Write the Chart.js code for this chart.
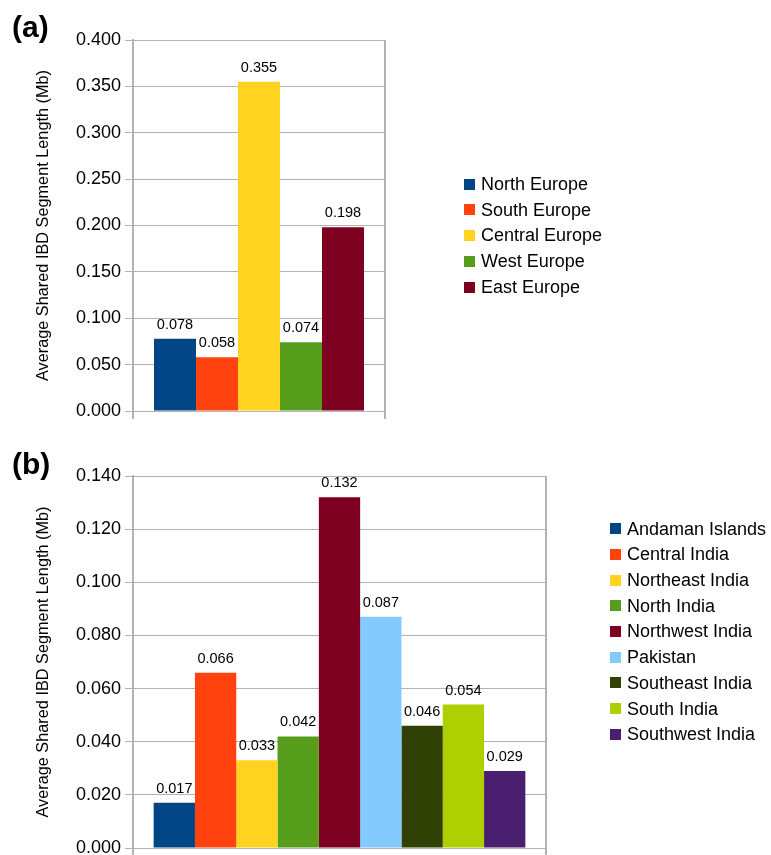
<!DOCTYPE html>
<html>
<head>
<meta charset="utf-8">
<script src="https://cdn.jsdelivr.net/npm/chart.js@4.4.1/dist/chart.umd.min.js"></script>
<style>
  html, body { margin: 0; padding: 0; background: #fff; overflow: hidden; }
  #wrap { position: relative; width: 771px; height: 855px; }
  canvas { position: absolute; left: 0; }
  #panelA { top: 0; }
  #panelB { top: 440px; }
</style>
</head>
<body>
<div id="wrap">
  <canvas id="panelA" width="771" height="430"></canvas>
  <canvas id="panelB" width="771" height="425"></canvas>
</div>
<script>
// données
const europeRegions = ['North Europe', 'South Europe', 'Central Europe', 'West Europe', 'East Europe'];
const europeValues = [0.078, 0.058, 0.355, 0.074, 0.198];
const europeYMax = 0.4;
const europeYStep = 0.05;

const indiaRegions = ['Andaman Islands', 'Central India', 'Northeast India', 'North India', 'Northwest India',
                      'Pakistan', 'Southeast India', 'South India', 'Southwest India'];
const indiaValues = [0.017, 0.066, 0.033, 0.042, 0.132, 0.087, 0.046, 0.054, 0.029];
const indiaYMax = 0.14;
const indiaYStep = 0.02;

const yTitle = 'Average Shared IBD Segment Length (Mb)';

// palette LibreOffice
const palette = ['#004586', '#ff420e', '#ffd320', '#579d1c', '#7e0021', '#83caff', '#314004', '#aecf00', '#4b1f6f'];
const FONT = "'Liberation Sans', Arial, Helvetica, sans-serif";
const GRID = '#b3b3b3';

// étiquettes de valeur, légende et lettre du panneau
const panelDecor = {
    id: 'panelDecor',
    afterDatasetsDraw(chart, args, opts) {
        const ctx = chart.ctx;
        ctx.save();
        ctx.fillStyle = '#000';

        ctx.font = `14.5px ${FONT}`;
        ctx.textAlign = 'center';
        ctx.textBaseline = 'alphabetic';
        chart.data.datasets.forEach((ds, i) => {
            const el = chart.getDatasetMeta(i).data[0];
            ctx.fillText(ds.data[0].toFixed(3), el.x, el.y - 10);
        });

        ctx.font = `18px ${FONT}`;
        ctx.textAlign = 'left';
        ctx.textBaseline = 'middle';
        chart.data.datasets.forEach((ds, i) => {
            const cy = opts.legendY + i * opts.legendStep;
            ctx.fillStyle = ds.backgroundColor;
            ctx.fillRect(opts.legendX, Math.round(cy - 5.5), 11, 11);
            ctx.fillStyle = '#000';
            ctx.fillText(ds.label, opts.legendX + 17, cy + 1);
        });

        ctx.font = `bold 30px ${FONT}`;
        ctx.textBaseline = 'alphabetic';
        ctx.fillText(opts.letter, 12, opts.letterY);
        ctx.restore();
    }
};

function creerPanneau(id, regions, values, yMax, yStep, padding, decor) {
    const n = regions.length;
    const datasets = regions.map((r, i) => ({
        label: r,
        data: [values[i]],
        backgroundColor: palette[i],
        borderWidth: 0,
        barPercentage: 1,
        categoryPercentage: n / (n + 1)
    }));

    return new Chart(document.getElementById(id), {
        type: 'bar',
        data: { labels: [''], datasets: datasets },
        plugins: [panelDecor],
        options: {
            responsive: false,
            animation: false,
            layout: { padding: padding },
            plugins: {
                legend: { display: false },
                tooltip: { enabled: false },
                panelDecor: decor
            },
            scales: {
                x: {
                    offset: true,
                    grid: { offset: true, color: GRID, lineWidth: 2, tickLength: 8 },
                    border: { display: true, color: GRID, width: 1 },
                    ticks: { display: false },
                    afterFit: s => { s.height = 8; }
                },
                y: {
                    min: 0,
                    max: yMax,
                    ticks: {
                        stepSize: yStep,
                        callback: v => v.toFixed(3),
                        font: { size: 18, family: FONT },
                        color: '#000',
                        padding: 4
                    },
                    grid: { color: GRID, lineWidth: 1, tickLength: 8 },
                    border: { color: GRID, width: 2 },
                    title: {
                        display: true,
                        text: yTitle,
                        color: '#000',
                        font: { size: 16.3, family: FONT },
                        padding: { top: 34, bottom: 0 }
                    },
                    afterFit: s => { s.width = 133; }
                }
            }
        }
    });
}

creerPanneau('panelA', europeRegions, europeValues, europeYMax, europeYStep,
    { left: 0, top: 40, right: 386, bottom: 11 },
    { legendX: 464, legendY: 184, legendStep: 25.75, letter: '(a)', letterY: 37 });

creerPanneau('panelB', indiaRegions, indiaValues, indiaYMax, indiaYStep,
    { left: 0, top: 36, right: 225, bottom: 9 },
    { legendX: 610, legendY: 88.7, legendStep: 25.7, letter: '(b)', letterY: 34 });
</script>
</body>
</html>
